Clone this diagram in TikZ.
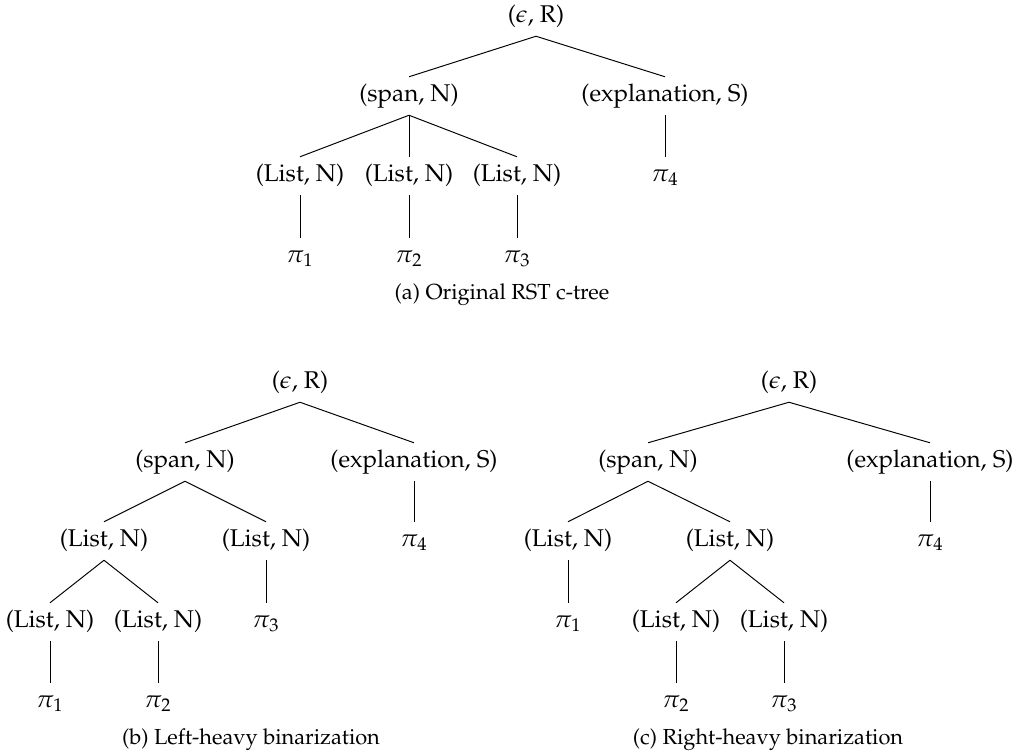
\documentclass[tikz,border=0pt]{standalone}
\usepackage[T1]{fontenc}
\usepackage{mathpazo}
\usetikzlibrary{calc}

\begin{document}
\begin{tikzpicture}[x=0.01453cm,y=-0.01453cm]
\tikzstyle{lab} = [text height=7pt, text depth=2.5pt, inner sep=3pt]
\tikzstyle{capt} = [font=\small, inner sep=0pt]
\tikzset{every path/.style={line width=0.4pt}} % plain tree edges
\useasboundingbox (0,0) rectangle (1025,755);

% (a) original tree
\node[lab] (a-root) at (536,17) {($\epsilon$, R)};
\node[lab] (a-span) at (409,96) {(span, N)};
\node[lab] (a-expl) at (665,96) {(explanation, S)};
\node[lab] (a-list1) at (300,176) {(List, N)};
\node[lab] (a-list2) at (409,176) {(List, N)};
\node[lab] (a-list3) at (517,176) {(List, N)};
\node[lab] (a-pi4) at (665,176) {$\pi_4$};
\node[lab] (a-pi1) at (300,257) {$\pi_1$};
\node[lab] (a-pi2) at (409,257) {$\pi_2$};
\node[lab] (a-pi3) at (517,257) {$\pi_3$};
\draw (a-root.south) -- (a-span.north);
\draw (a-root.south) -- (a-expl.north);
\draw (a-span.south) -- (a-list1.north);
\draw (a-span.south) -- (a-list2.north);
\draw (a-span.south) -- (a-list3.north);
\draw (a-expl.south) -- (a-pi4.north);
\draw (a-list1.south) -- (a-pi1.north);
\draw (a-list2.south) -- (a-pi2.north);
\draw (a-list3.south) -- (a-pi3.north);
\node[capt] (a-capt) at (502,295) {(a) Original RST c-tree};

% (b) left-heavy
\node[lab] (b-root) at (300,383) {($\epsilon$, R)};
\node[lab] (b-span) at (185,462) {(span, N)};
\node[lab] (b-expl) at (414,462) {(explanation, S)};
\node[lab] (b-lista) at (104,541) {(List, N)};
\node[lab] (b-listb) at (266,541) {(List, N)};
\node[lab] (b-pi4) at (414,541) {$\pi_4$};
\node[lab] (b-listc) at (50,622) {(List, N)};
\node[lab] (b-listd) at (158,622) {(List, N)};
\node[lab] (b-pi3) at (266,622) {$\pi_3$};
\node[lab] (b-pi1) at (50,702) {$\pi_1$};
\node[lab] (b-pi2) at (158,702) {$\pi_2$};
\draw (b-root.south) -- (b-span.north);
\draw (b-root.south) -- (b-expl.north);
\draw (b-span.south) -- (b-lista.north);
\draw (b-span.south) -- (b-listb.north);
\draw (b-expl.south) -- (b-pi4.north);
\draw (b-lista.south) -- (b-listc.north);
\draw (b-lista.south) -- (b-listd.north);
\draw (b-listb.south) -- (b-pi3.north);
\draw (b-listc.south) -- (b-pi1.north);
\draw (b-listd.south) -- (b-pi2.north);
\node[capt] (b-capt) at (251,740) {(b) Left-heavy binarization};

% (c) right-heavy
\node[lab] (c-root) at (789,383) {($\epsilon$, R)};
\node[lab] (c-span) at (648,462) {(span, N)};
\node[lab] (c-expl) at (930,462) {(explanation, S)};
\node[lab] (c-lista) at (568,541) {(List, N)};
\node[lab] (c-listb) at (730,541) {(List, N)};
\node[lab] (c-pi4) at (930,541) {$\pi_4$};
\node[lab] (c-pi1) at (568,622) {$\pi_1$};
\node[lab] (c-listc) at (676,622) {(List, N)};
\node[lab] (c-listd) at (784,622) {(List, N)};
\node[lab] (c-pi2) at (676,702) {$\pi_2$};
\node[lab] (c-pi3) at (784,702) {$\pi_3$};
\draw (c-root.south) -- (c-span.north);
\draw (c-root.south) -- (c-expl.north);
\draw (c-span.south) -- (c-lista.north);
\draw (c-span.south) -- (c-listb.north);
\draw (c-expl.south) -- (c-pi4.north);
\draw (c-lista.south) -- (c-pi1.north);
\draw (c-listb.south) -- (c-listc.north);
\draw (c-listb.south) -- (c-listd.north);
\draw (c-listc.south) -- (c-pi2.north);
\draw (c-listd.south) -- (c-pi3.north);
\node[capt] (c-capt) at (768,740) {(c) Right-heavy binarization};

\end{tikzpicture}
\end{document}
